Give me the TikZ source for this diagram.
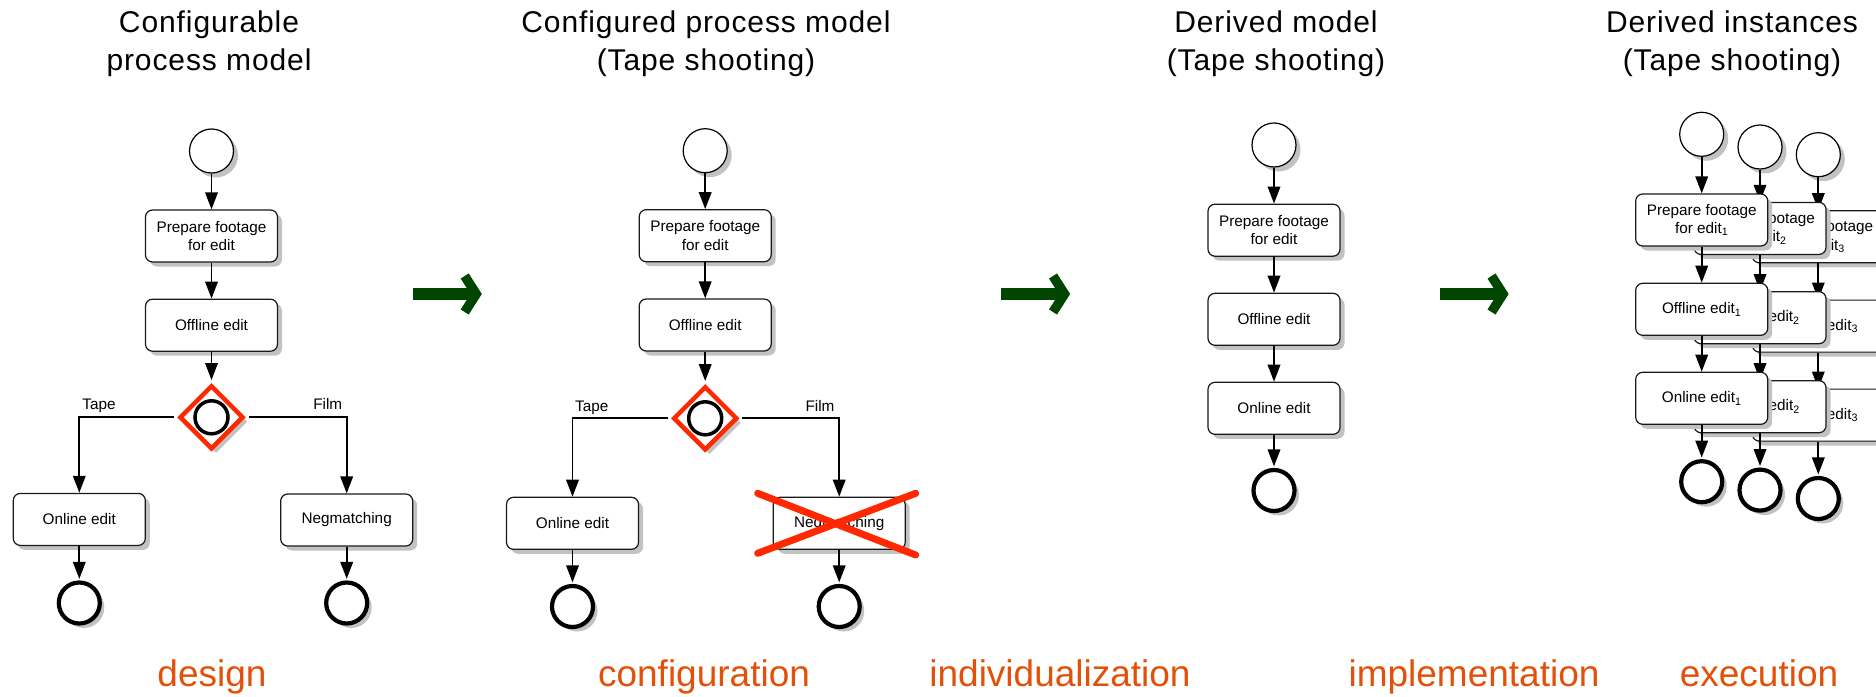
\documentclass[tikz,border=0pt]{standalone}
\usepackage{fontspec}
\setmainfont{Liberation Sans}
\newfontfamily\titlefont[LetterSpace=3]{Liberation Sans}
\usetikzlibrary{arrows.meta,shapes.geometric,shadows}
\definecolor{gwred}{RGB}{255,40,0}
\definecolor{arrgreen}{RGB}{0,70,0}
\definecolor{phasecol}{RGB}{226,80,10}
\newcommand{\inum}[1]{\textsubscript{#1}}
\newcommand{\boxfont}{\fontsize{15.3}{18.5}\selectfont}
\newcommand{\ttlfont}{\titlefont\fontsize{30}{37.5}\selectfont}
\newcommand{\phasefont}{\fontsize{37}{40}\selectfont}
\newcommand{\greenarrow}[2]{%
  \draw[arrgreen, line width=12pt] (#1,#2) -- ++(63.5,0);
  \draw[arrgreen, line width=9.5pt, miter limit=10] (#1,#2) ++(52,-18) -- ++(11.5,18) -- ++(-11.5,18);
}
\begin{document}
\begin{tikzpicture}[x=1pt,y=-1pt,
  shadowed/.style={drop shadow={shadow xshift=4.5pt, shadow yshift=-4.5pt, opacity=1, fill=black!24}},
  task/.style={shadowed, draw=black!90, line width=1.2pt, fill=white, rounded corners=7pt,
    minimum width=132pt, minimum height=52pt, inner sep=0pt, align=center, font=\boxfont},
  startev/.style={shadowed, circle, draw=black, line width=1.2pt, fill=white, minimum size=44pt, inner sep=0pt},
  endev/.style={shadowed, circle, draw=black, line width=4.2pt, fill=white, minimum size=41pt, inner sep=0pt},
  gateway/.style={shadowed, diamond, aspect=1, draw=gwred, line width=4.5pt, fill=white, minimum size=64pt, inner sep=0pt},
  gwmark/.style={circle, draw=black, line width=3.5pt, minimum size=33pt, inner sep=0pt},
  conn/.style={draw=black, line width=1.9pt, -{Triangle[length=17pt,width=12.5pt]}},
  gwout/.style={conn, shorten <=3pt},
  gwin/.style={conn, shorten >=3pt},
  toend/.style={conn, shorten >=1.5pt},
  lbl/.style={font=\boxfont, anchor=base, inner sep=0pt},
  title/.style={font=\ttlfont, align=center, anchor=north, inner sep=0pt},
  phase/.style={font=\phasefont, text=phasecol, anchor=base, inner sep=0pt},
  cross/.style={draw=gwred, line width=7pt, line cap=round}]
\useasboundingbox (0,0) rectangle (1876,696);
\clip (0,0) rectangle (1876,696);

% titles
\node[title] (t1) at (209,11) {Configurable\\process model};
\node[title] (t2) at (706,11) {Configured process model\\(Tape shooting)};
\node[title] (t3) at (1276,11) {Derived model\\(Tape shooting)};
\node[title] (t4) at (1732,11) {Derived instances\\(Tape shooting)};

% phases
\node[phase] (ph1) at (212,686) {design};
\node[phase] (ph2) at (704,686) {configuration};
\node[phase] (ph3) at (1060,686) {individualization};
\node[phase] (ph4) at (1474,686) {implementation};
\node[phase] (ph5) at (1759,686) {execution};

% green arrows
\greenarrow{412.7}{294}
\greenarrow{1001}{294}
\greenarrow{1439.5}{294}

% ---------- panel 1
\node[startev] (s1) at (211.5,151) {};
\node[task] (p1a) at (211.5,236) {Prepare footage\\for edit};
\node[task] (p1b) at (211.5,325.2) {Offline edit};
\node[gateway] (g1) at (211.5,417.3) {};
\node[gwmark] (g1m) at (211.5,417.3) {};
\node[task] (p1c) at (79.3,519.4) {Online edit};
\node[task] (p1d) at (346.7,520) {Negmatching};
\node[endev] (e1a) at (79.3,603) {};
\node[endev] (e1b) at (346.7,603) {};
\draw[conn] (s1) -- (p1a);
\draw[conn] (p1a) -- (p1b);
\draw[gwin] (p1b) -- (g1.north);
\draw[gwout] (g1.west) -| (p1c.north);
\draw[gwout] (g1.east) -| (p1d.north);
\draw[toend] (p1c) -- (e1a);
\draw[toend] (p1d) -- (e1b);
\node[lbl] (l1a) at (99,409) {Tape};
\node[lbl] (l1b) at (327.7,409) {Film};

% ---------- panel 2
\node[startev] (s2) at (705.2,150.7) {};
\node[task] (p2a) at (705.2,235.7) {Prepare footage\\for edit};
\node[task] (p2b) at (705.2,325) {Offline edit};
\node[gateway] (g2) at (705.2,418.3) {};
\node[gwmark] (g2m) at (705.2,418.3) {};
\node[task] (p2c) at (572.5,523.3) {Online edit};
\node[task] (p2d) at (839.2,523.3) {Negmatching};
\node[endev] (e2a) at (572.5,606.5) {};
\node[endev] (e2b) at (839.2,606.5) {};
\draw[conn] (s2) -- (p2a);
\draw[conn] (p2a) -- (p2b);
\draw[gwin] (p2b) -- (g2.north);
\draw[gwout] (g2.west) -| (p2c.north);
\draw[gwout] (g2.east) -| (p2d.north);
\draw[toend] (p2c) -- (e2a);
\draw[toend] (p2d) -- (e2b);
\node[lbl] (l2a) at (591.7,411) {Tape};
\node[lbl] (l2b) at (820,411) {Film};
\draw[cross] (757.7,493.3) -- (915.7,555);
\draw[cross] (757.7,553.3) -- (915.7,493.3);

% ---------- panel 3
\node[startev] (s3) at (1274,145) {};
\node[task] (p3a) at (1274,230.2) {Prepare footage\\for edit};
\node[task] (p3b) at (1274,319.3) {Offline edit};
\node[task] (p3c) at (1274,408.3) {Online edit};
\node[endev] (e3) at (1274,490.5) {};
\draw[conn] (s3) -- (p3a);
\draw[conn] (p3a) -- (p3b);
\draw[conn] (p3b) -- (p3c);
\draw[toend] (p3c) -- (e3);

% ---------- panel 4, instance 3
\node[startev] (s43) at (1818.3,154.7) {};
\node[task] (q3a) at (1818.3,236.8) {Prepare footage\\for edit\inum{3}};
\node[task] (q3b) at (1818.3,326.1) {Offline edit\inum{3}};
\node[task] (q3c) at (1818.3,415.1) {Online edit\inum{3}};
\node[endev] (e43) at (1818.3,498.5) {};
\draw[conn] (s43) -- (q3a);
\draw[conn] (q3a) -- (q3b);
\draw[conn] (q3b) -- (q3c);
\draw[toend] (q3c) -- (e43);

% instance 2
\node[startev] (s42) at (1760,147) {};
\node[task] (q2a) at (1760,228.4) {Prepare footage\\for edit\inum{2}};
\node[task] (q2b) at (1760,317.7) {Offline edit\inum{2}};
\node[task] (q2c) at (1760,406.7) {Online edit\inum{2}};
\node[endev] (e42) at (1760,490.1) {};
\draw[conn] (s42) -- (q2a);
\draw[conn] (q2a) -- (q2b);
\draw[conn] (q2b) -- (q2c);
\draw[toend] (q2c) -- (e42);

% instance 1
\node[startev] (s41) at (1701.7,134.3) {};
\node[task] (q1a) at (1701.7,220) {Prepare footage\\for edit\inum{1}};
\node[task] (q1b) at (1701.7,309.3) {Offline edit\inum{1}};
\node[task] (q1c) at (1701.7,398.3) {Online edit\inum{1}};
\node[endev] (e41) at (1701.7,481.7) {};
\draw[conn] (s41) -- (q1a);
\draw[conn] (q1a) -- (q1b);
\draw[conn] (q1b) -- (q1c);
\draw[toend] (q1c) -- (e41);
\end{tikzpicture}
\end{document}
